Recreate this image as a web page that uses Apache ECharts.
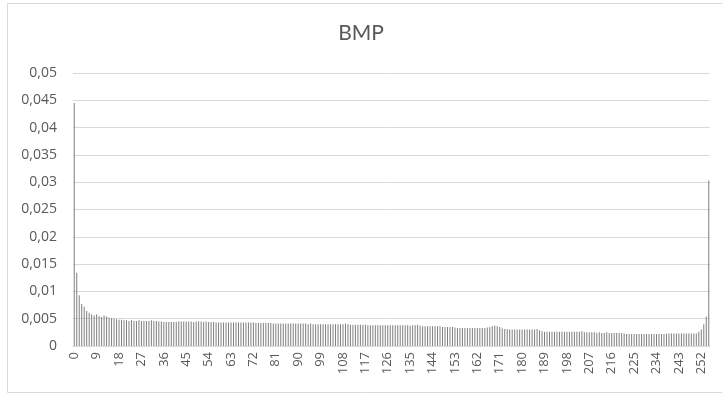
<!DOCTYPE html>
<html>
<head>
<meta charset="utf-8">
<script src="https://cdn.jsdelivr.net/npm/echarts@6/dist/echarts.min.js"></script>
<style>html,body{margin:0;padding:0;background:#fff}#c{width:722px;height:395px}</style>
</head>
<body>
<div id="c"></div>
<script>
const titleText = 'BMP';
const categories = Array.from({length: 256}, (_, i) => String(i));
const values = [
0.0445,0.0134,0.0093,0.0077,0.0072,0.0064,0.0061,0.0058,0.0056,0.0058,
0.0055,0.0053,0.0056,0.0054,0.0052,0.0051,0.0050,0.0049,0.0048,0.0048,
0.0047,0.0047,0.0046,0.0047,0.0046,0.0046,0.0047,0.0046,0.0046,0.0046,
0.0046,0.0047,0.0046,0.0046,0.0045,0.0045,0.0044,0.0044,0.0044,0.0044,
0.0044,0.0044,0.0045,0.0045,0.0045,0.0045,0.0045,0.0045,0.0044,0.0045,
0.0045,0.0045,0.0044,0.0045,0.0044,0.0044,0.0044,0.0043,0.0043,0.0043,
0.0043,0.0043,0.0043,0.0043,0.0043,0.0043,0.0043,0.0043,0.0043,0.0043,
0.0043,0.0043,0.0043,0.0042,0.0042,0.0042,0.0042,0.0042,0.0042,0.0042,
0.0041,0.0041,0.0041,0.0041,0.0041,0.0041,0.0041,0.0041,0.0041,0.0041,
0.0041,0.0041,0.0041,0.0041,0.0040,0.0041,0.0040,0.0040,0.0040,0.0040,
0.0040,0.0040,0.0040,0.0040,0.0040,0.0040,0.0040,0.0040,0.0040,0.0041,
0.0040,0.0039,0.0039,0.0039,0.0039,0.0039,0.0039,0.0039,0.0038,0.0038,
0.0038,0.0038,0.0038,0.0038,0.0038,0.0038,0.0038,0.0038,0.0038,0.0038,
0.0038,0.0038,0.0038,0.0038,0.0038,0.0037,0.0038,0.0038,0.0039,0.0037,
0.0036,0.0036,0.0036,0.0036,0.0036,0.0036,0.0036,0.0036,0.0035,0.0035,
0.0035,0.0035,0.0035,0.0034,0.0033,0.0033,0.0033,0.0033,0.0033,0.0033,
0.0033,0.0033,0.0033,0.0033,0.0033,0.0033,0.0034,0.0035,0.0036,0.0037,
0.0036,0.0035,0.0032,0.0031,0.0031,0.0030,0.0030,0.0030,0.0030,0.0030,
0.0030,0.0030,0.0030,0.0030,0.0030,0.0030,0.0031,0.0029,0.0027,0.0026,
0.0026,0.0026,0.0026,0.0026,0.0026,0.0026,0.0026,0.0026,0.0026,0.0026,
0.0026,0.0026,0.0026,0.0026,0.0027,0.0025,0.0025,0.0025,0.0025,0.0025,
0.0024,0.0025,0.0024,0.0024,0.0025,0.0024,0.0024,0.0024,0.0024,0.0024,
0.0024,0.0023,0.0022,0.0022,0.0022,0.0022,0.0022,0.0022,0.0022,0.0022,
0.0022,0.0022,0.0022,0.0022,0.0022,0.0022,0.0022,0.0022,0.0023,0.0023,
0.0023,0.0023,0.0023,0.0023,0.0023,0.0023,0.0023,0.0023,0.0023,0.0023,
0.0023,0.0026,0.0030,0.0040,0.0054,0.0303
];
const yMin = 0, yMax = 0.05, yStep = 0.005;

const chart = echarts.init(document.getElementById('c'), null, {renderer: 'canvas'});
chart.setOption({
  animation: false,
  backgroundColor: '#ffffff',
  textStyle: {fontFamily: 'Open Sans'},
  graphic: [{
    type: 'rect', silent: true, z: -1,
    shape: {x: 7.5, y: 3.5, width: 722, height: 389},
    style: {fill: 'none', stroke: '#d9d9d9', lineWidth: 1}
  }],
  title: {
    text: titleText, left: 'center', top: 18,
    textStyle: {fontFamily: 'Lato', fontSize: 21, fontWeight: 'normal', color: '#595959'}
  },
  grid: {left: 73, right: 12, top: 73, bottom: 49, containLabel: false},
  xAxis: {
    type: 'category', data: categories,
    axisLine: {lineStyle: {color: '#d9d9d9'}},
    axisTick: {show: false},
    axisLabel: {interval: 8, rotate: 90, color: '#595959', fontSize: 13, margin: 6, fontFamily: 'Open Sans'}
  },
  yAxis: {
    type: 'value', min: yMin, max: yMax, interval: yStep,
    axisLine: {show: false}, axisTick: {show: false},
    splitLine: {lineStyle: {color: '#d9d9d9'}},
    axisLabel: {
      color: '#595959', fontSize: 14, margin: 16, fontFamily: 'Open Sans',
      formatter: v => String(parseFloat(v.toFixed(4))).replace('.', ',')
    }
  },
  series: [{
    type: 'bar', data: values, barWidth: 1,
    itemStyle: {color: '#7f7f7f'}
  }]
});
</script>
</body>
</html>
